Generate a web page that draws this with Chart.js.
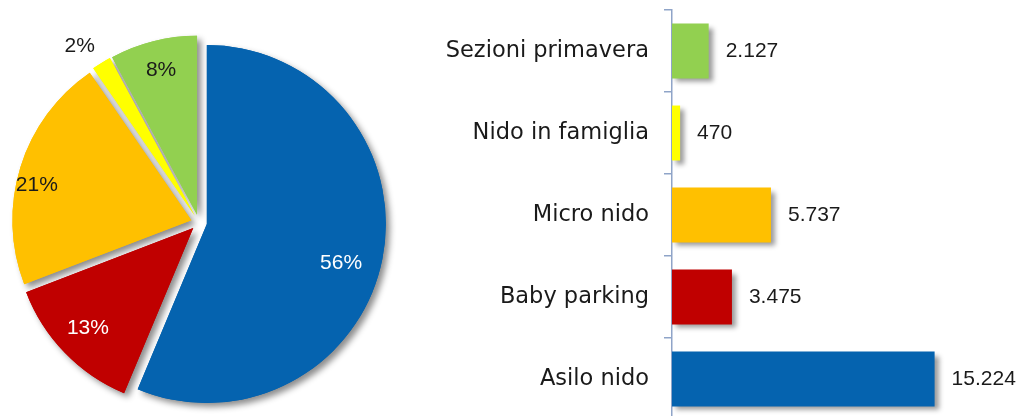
<!DOCTYPE html>
<html><head><meta charset="utf-8">
<script src="https://cdn.jsdelivr.net/npm/chart.js@4.4.0/dist/chart.umd.min.js"></script>
<style>
html,body{margin:0;padding:0;background:#fff;width:1017px;height:416px;overflow:hidden;position:relative;}
#pieBox{position:absolute;left:0;top:0;width:410px;height:416px;}
#barBox{position:absolute;left:400px;top:0;width:617px;height:426px;}
</style></head><body>
<div id="pieBox"><canvas id="pie"></canvas></div>
<div id="barBox"><canvas id="bar"></canvas></div>
<script>
// ---- data ----
const categories = ['Asilo nido', 'Baby parking', 'Micro nido', 'Nido in famiglia', 'Sezioni primavera'];
const values = [15224, 3475, 5737, 470, 2127];
const colors = ['#0563AF', '#C00000', '#FFC000', '#FFFF00', '#92D050'];
const pctLabelColors = ['#ffffff', '#ffffff', '#1a1a1a', '#1a1a1a', '#1a1a1a'];
const pctLabelRadius = [0.825, 0.856, 0.93, 1.19, 0.878];
const pctLabelShiftDeg = [4.5, 0.6, -4.2, -2.6, 0.2];
const xMax = 20000;

const LABEL_FONT = "'DejaVu Sans', sans-serif";
const NUM_FONT = "'Liberation Sans', Arial, sans-serif";
const total = values.reduce((a, b) => a + b, 0);
const pctLabels = values.map(v => Math.round(v / total * 100) + '%');
const fmt = v => String(v).replace(/\B(?=(\d{3})+(?!\d))/g, '.');

// ---- pie with exploded slices + shadows ----
const explodePlugin = {
  id: 'explode',
  beforeDatasetDraw(chart, args, opts) {
    const ctx = chart.ctx;
    const d = opts.distance;
    const arcs = args.meta.data;
    for (const pass of [0, 1]) {
      arcs.forEach(arc => {
        const mid = (arc.startAngle + arc.endAngle) / 2;
        ctx.save();
        if (pass === 0) {
          ctx.shadowColor = 'rgba(0,0,0,0.45)';
          ctx.shadowBlur = 6;
          ctx.shadowOffsetX = 4;
          ctx.shadowOffsetY = 4;
        }
        ctx.translate(Math.cos(mid) * d, Math.sin(mid) * d);
        arc.draw(ctx);
        ctx.restore();
      });
    }
    return false;
  },
  afterDraw(chart) {
    const ctx = chart.ctx;
    const arcs = chart.getDatasetMeta(0).data;
    ctx.save();
    ctx.font = '21px ' + NUM_FONT;
    ctx.textAlign = 'center';
    ctx.textBaseline = 'middle';
    arcs.forEach((arc, i) => {
      const a = (arc.startAngle + arc.endAngle) / 2 + pctLabelShiftDeg[i] * Math.PI / 180;
      const r = arc.outerRadius * pctLabelRadius[i];
      ctx.fillStyle = pctLabelColors[i];
      ctx.fillText(pctLabels[i], arc.x + Math.cos(a) * r, arc.y + Math.sin(a) * r);
    });
    ctx.restore();
  }
};

new Chart(document.getElementById('pie'), {
  type: 'pie',
  data: {
    labels: categories,
    datasets: [{ data: values, backgroundColor: colors, borderWidth: 0 }]
  },
  options: {
    responsive: true,
    maintainAspectRatio: false,
    animation: false,
    layout: { padding: { left: 20, top: 43.5, right: 32, bottom: 14.5 } },
    plugins: {
      legend: { display: false },
      tooltip: { enabled: false },
      explode: { distance: 8 }
    }
  },
  plugins: [explodePlugin]
});

// ---- horizontal bars ----
const barShadow = {
  id: 'barShadow',
  beforeDatasetDraw(chart) {
    const ctx = chart.ctx;
    ctx.save();
    ctx.shadowColor = 'rgba(0,0,0,0.4)';
    ctx.shadowBlur = 5;
    ctx.shadowOffsetX = 4;
    ctx.shadowOffsetY = 4;
  },
  afterDatasetDraw(chart) {
    chart.ctx.restore();
  },
  afterDatasetsDraw(chart) {
    const ctx = chart.ctx;
    const bars = chart.getDatasetMeta(0).data;
    ctx.save();
    ctx.font = '21px ' + NUM_FONT;
    ctx.fillStyle = '#1a1a1a';
    ctx.textAlign = 'left';
    ctx.textBaseline = 'middle';
    bars.forEach((b, i) => {
      ctx.fillText(fmt(values[i]), b.x + 17, b.y);
    });
    ctx.restore();
  }
};

const axisColor = '#8FA4C8';
new Chart(document.getElementById('bar'), {
  type: 'bar',
  data: {
    labels: categories,
    datasets: [{
      data: values,
      backgroundColor: colors,
      borderWidth: 0,
      barPercentage: 0.67,
      categoryPercentage: 1
    }]
  },
  options: {
    indexAxis: 'y',
    responsive: true,
    maintainAspectRatio: false,
    animation: false,
    layout: { padding: { top: 10, bottom: 6, left: 0, right: 0 } },
    scales: {
      x: { display: false, min: 0, max: xMax },
      y: {
        reverse: true,
        grid: { offset: true, drawOnChartArea: false, drawTicks: true, tickLength: 8, color: axisColor, lineWidth: 1.5 },
        border: { display: true, color: axisColor, width: 1.5 },
        ticks: { padding: 15, color: '#1a1a1a', font: { family: LABEL_FONT, size: 22.5 } },
        afterFit(s) { s.width = 272; s.paddingTop = 0; s.paddingBottom = 0; }
      }
    },
    plugins: { legend: { display: false }, tooltip: { enabled: false } }
  },
  plugins: [barShadow]
});
</script>
</body></html>
